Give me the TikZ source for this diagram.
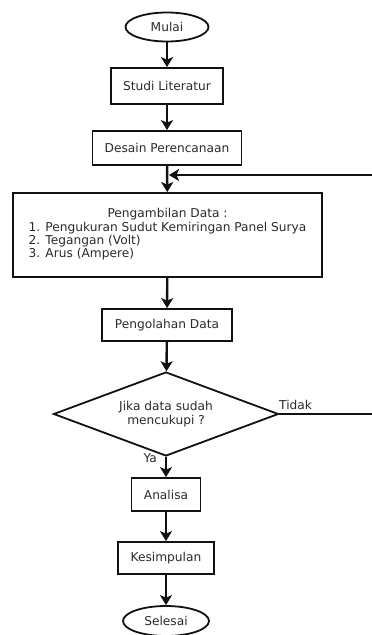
\documentclass[tikz,border=0pt]{standalone}
\usepackage{fontspec}
\setmainfont{DejaVu Sans}
\usetikzlibrary{shapes.geometric,arrows.meta,calc}
\definecolor{txt}{HTML}{2A2A2A}
\definecolor{ln}{HTML}{111111}
\begin{document}
\begin{tikzpicture}[x=1pt,y=-1pt,
  font=\fontsize{12.2}{14.4}\selectfont,
  every node/.style={text=txt},
  boxnode/.style={draw=ln,line width=1.8pt,rectangle,inner sep=0pt},
  ovalnode/.style={draw=ln,line width=1.8pt,ellipse,inner sep=0pt},
  decnode/.style={draw=ln,line width=1.8pt,diamond,inner sep=0pt,aspect=2.68,align=center},
  flow/.style={draw=ln,line width=2.4pt,-{Stealth[length=10pt,width=12pt,inset=2.5pt]}},
  plainline/.style={draw=ln,line width=2pt}]
\useasboundingbox (0,0) rectangle (372,635);
\node[ovalnode,minimum width=83pt,minimum height=29pt] (mulai) at (167,27) {Mulai};
\node[boxnode,minimum width=112pt,minimum height=36pt] (studi) at (167,86) {Studi Literatur};
\node[boxnode,minimum width=149pt,minimum height=34pt] (desain) at (167,148) {Desain Perencanaan};
\node[boxnode,minimum width=309pt,minimum height=84pt] (ambil) at (167.5,235)
  {\renewcommand{\arraystretch}{0.92}\begin{tabular}{@{}l@{}}\multicolumn{1}{@{}c@{}}{Pengambilan Data :}\\
   1. Pengukuran Sudut Kemiringan Panel Surya\\
   2. Tegangan (Volt)\\
   3. Arus (Ampere)\end{tabular}};
\node[boxnode,minimum width=130pt,minimum height=32pt] (olah) at (167,325) {Pengolahan Data};
\node[decnode,minimum width=225pt,minimum height=84pt] (dec) at (166,414) {Jika data sudah\\mencukupi ?};
\node[boxnode,minimum width=69pt,minimum height=33pt] (analisa) at (166,494.5) {Analisa};
\node[boxnode,minimum width=96pt,minimum height=32pt] (kesim) at (166,558) {Kesimpulan};
\node[ovalnode,minimum width=86pt,minimum height=30pt] (selesai) at (166,621) {Selesai};
\node[anchor=south west,inner sep=0pt] (tidak) at (279,410) {Tidak};
\node[anchor=north east,inner sep=0pt] (ya) at (157,453) {Ya};
\coordinate (fb) at (372,175);
\coordinate (fbj) at (desain.south |- fb);
\coordinate (te) at (372,414);
\draw[flow] (mulai) -- (studi);
\draw[flow] (studi) -- (desain);
\draw[flow] (desain) -- (ambil);
\draw[flow] (fb) -- ([xshift=2pt]fbj);
\draw[flow] (ambil) -- (olah);
\draw[flow] (olah) -- (dec);
\draw[plainline] (dec.east) -- (te);
\draw[flow] (dec.south) -- (analisa);
\draw[flow] (analisa) -- (kesim);
\draw[flow] (kesim) -- (selesai);
\end{tikzpicture}
\end{document}
